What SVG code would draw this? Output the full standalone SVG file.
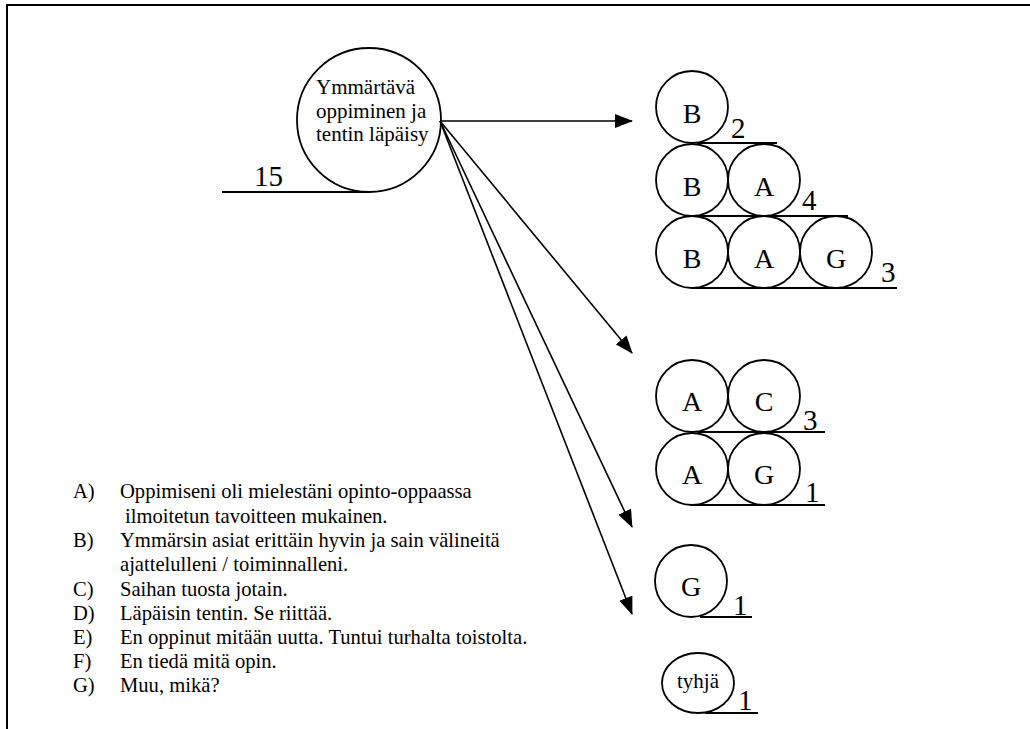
<svg xmlns="http://www.w3.org/2000/svg" width="1030" height="729" viewBox="0 0 1030 729" font-family="'Liberation Serif', 'Times New Roman', 'DejaVu Serif', serif">
<defs>
<style>
.t{font-family:'Liberation Serif','Times New Roman','DejaVu Serif',serif;fill:#000}
.c{fill:none;stroke:#000;stroke-width:1.8}
.u{stroke:#000;stroke-width:1.8}
.l{font-size:28px;text-anchor:middle}
.n{font-size:29px}
.g{font-size:20.6px}
.conn{stroke:#000;stroke-width:1.6;fill:none}
</style>
<marker id="ah" markerWidth="18" markerHeight="14" refX="17" refY="7" orient="auto" markerUnits="userSpaceOnUse">
<path d="M0,0 L18,7 L0,14 Z" fill="#000"/>
</marker>
</defs>
<rect width="1030" height="729" fill="#fff"/>
<g id="frame">
<line x1="7" y1="5" x2="1030" y2="5" stroke="#000" stroke-width="2"/>
<line x1="7" y1="4" x2="7" y2="729" stroke="#000" stroke-width="2"/>
</g>
<g id="main" class="t">
<circle class="c" cx="369" cy="120" r="72"/>
<text x="316" y="94" font-size="21">Ymmärtävä</text>
<text x="316" y="118" font-size="21">oppiminen ja</text>
<text x="316" y="141" font-size="21">tentin läpäisy</text>
<line class="u" x1="222" y1="192" x2="370" y2="192"/>
<text class="n" x="254" y="186">15</text>
</g>
<g id="connectors">
<line class="conn" x1="440" y1="121" x2="632" y2="121" marker-end="url(#ah)"/>
<line class="conn" x1="440" y1="121" x2="632" y2="353" marker-end="url(#ah)"/>
<line class="conn" x1="440" y1="121" x2="632" y2="527" marker-end="url(#ah)"/>
<line class="conn" x1="440" y1="121" x2="632" y2="614" marker-end="url(#ah)"/>
</g>
<g id="group1" class="t">
<circle class="c" cx="692" cy="107" r="36"/><text class="l" x="692" y="123">B</text>
<line class="u" x1="697" y1="143" x2="777" y2="143"/><text class="n" x="731" y="138">2</text>
<circle class="c" cx="692" cy="180" r="36"/><text class="l" x="692" y="196">B</text>
<circle class="c" cx="764" cy="180" r="36"/><text class="l" x="764" y="196">A</text>
<line class="u" x1="697" y1="216" x2="848" y2="216"/><text class="n" x="802" y="210">4</text>
<circle class="c" cx="692" cy="252" r="36"/><text class="l" x="692" y="268">B</text>
<circle class="c" cx="764" cy="252" r="36"/><text class="l" x="764" y="268">A</text>
<circle class="c" cx="836" cy="252" r="36"/><text class="l" x="836" y="268">G</text>
<line class="u" x1="692" y1="288" x2="897" y2="288"/><text class="n" x="881" y="282">3</text>
</g>
<g id="group2" class="t">
<circle class="c" cx="692" cy="396" r="36"/><text class="l" x="692" y="411">A</text>
<circle class="c" cx="764" cy="396" r="36"/><text class="l" x="764" y="411">C</text>
<line class="u" x1="697" y1="432" x2="825" y2="432"/><text class="n" x="803" y="430">3</text>
<circle class="c" cx="692" cy="469" r="36"/><text class="l" x="692" y="484">A</text>
<circle class="c" cx="764" cy="469" r="36"/><text class="l" x="764" y="484">G</text>
<line class="u" x1="690" y1="505" x2="825" y2="505"/><text class="n" x="805" y="502">1</text>
</g>
<g id="group3" class="t">
<circle class="c" cx="691" cy="581" r="36"/><text class="l" x="691" y="596">G</text>
<line class="u" x1="700" y1="617" x2="752" y2="617"/><text class="n" x="733" y="615">1</text>
</g>
<g id="group4" class="t">
<ellipse class="c" cx="698" cy="683" rx="36" ry="30"/>
<text x="698" y="688" font-size="21" text-anchor="middle">tyhjä</text>
<line class="u" x1="705" y1="713" x2="758" y2="713"/><text class="n" x="738" y="710">1</text>
</g>
<g id="legend" class="t g">
<text x="73" y="498">A)</text><text x="120" y="498">Oppimiseni oli mielestäni opinto-oppaassa</text>
<text x="125" y="523">ilmoitetun tavoitteen mukainen.</text>
<text x="73" y="547">B)</text><text x="120" y="547">Ymmärsin asiat erittäin hyvin ja sain välineitä</text>
<text x="120" y="571">ajattelulleni / toiminnalleni.</text>
<text x="73" y="596">C)</text><text x="120" y="596">Saihan tuosta jotain.</text>
<text x="73" y="620">D)</text><text x="120" y="620">Läpäisin tentin. Se riittää.</text>
<text x="73" y="644">E)</text><text x="120" y="644">En oppinut mitään uutta. Tuntui turhalta toistolta.</text>
<text x="73" y="668">F)</text><text x="120" y="668">En tiedä mitä opin.</text>
<text x="73" y="692">G)</text><text x="120" y="692">Muu, mikä?</text>
</g>
</svg>
